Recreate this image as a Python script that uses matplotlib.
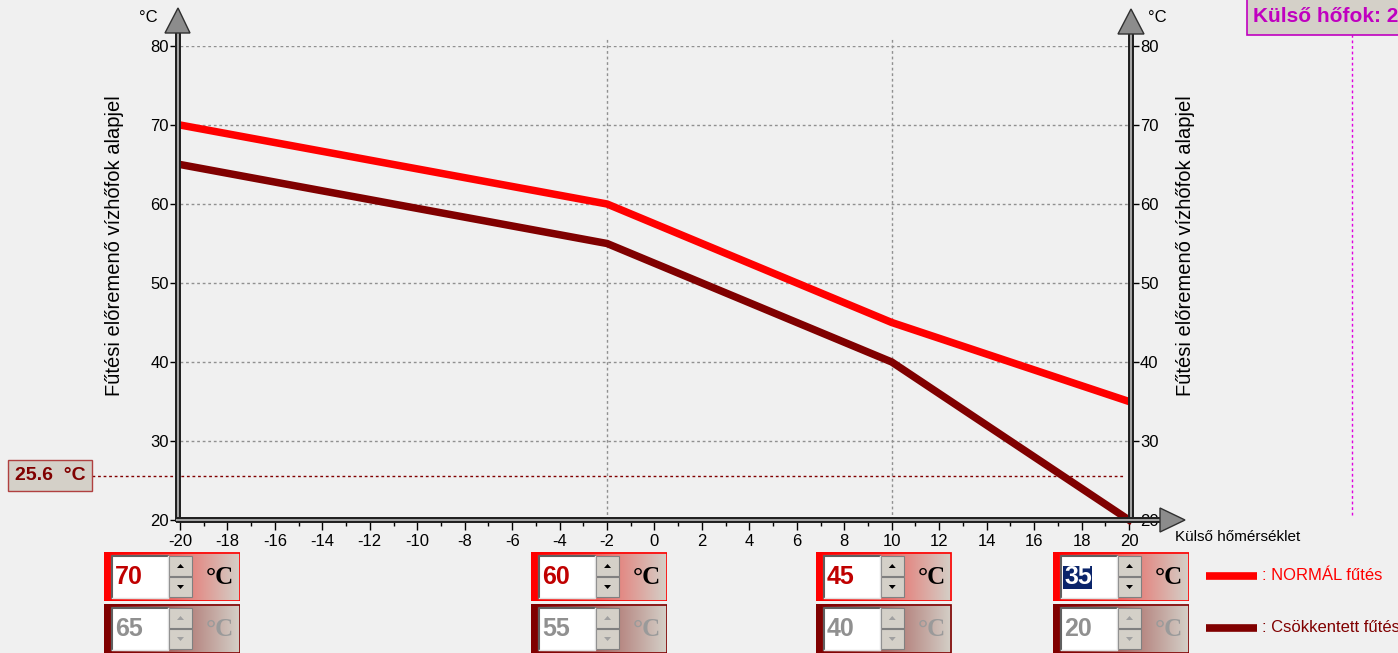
import numpy as np
import matplotlib.pyplot as plt
import matplotlib.transforms as mtransforms
import matplotlib.colors as mcolors
from matplotlib.patches import Rectangle, Polygon
from matplotlib.lines import Line2D

W, H = 1398, 653

# heating curve: outside temperature breakpoints and flow setpoints
outside_pts = [-20, -2, 10, 20]
normal_flow = [70, 60, 45, 35]
reduced_flow = [65, 55, 40, 20]

x_ticks = list(range(-20, 21, 2))
x_minor = list(range(-20, 21))
y_ticks = [20, 30, 40, 50, 60, 70, 80]

setpoint = 25.6
outside_now = 29.4
progress = [-20, 0]

legend_labels = [': NORMÁL fűtés', ': Csökkentett fűtés']

RED = '#ff0000'
DARK = '#800000'
BG = '#f0f0f0'
PANEL = '#d4d0c8'

plt.rcParams['font.family'] = ['Liberation Sans', 'DejaVu Sans']
plt.rcParams['axes.unicode_minus'] = False

fig = plt.figure(figsize=(W / 100, H / 100), dpi=100, facecolor=BG)


def fx(px):
    return px / W


def fy(py):
    return 1 - py / H


ax = fig.add_axes([fx(180), fy(520), fx(1129) - fx(180), fy(46) - fy(520)])
ax.set_facecolor(BG)
ax.set_xlim(-20, 20)
ax.set_ylim(20, 80)
for s in ax.spines.values():
    s.set_visible(False)
ax.set_xticks(x_ticks)
ax.set_xticks(x_minor, minor=True)
ax.set_yticks(y_ticks)
ax.tick_params(axis='x', which='major', length=7, width=1, labelsize=12, pad=3)
ax.tick_params(axis='x', which='minor', length=4, width=1)
ax.tick_params(axis='y', length=7, width=1, labelsize=12, pad=1)
ax.set_ylabel('Fűtési előremenő vízhőfok alapjel', fontsize=14.5)
ax.yaxis.set_label_coords((124 - 180) / 949, 0.578)

ax2 = ax.twinx()
ax2.set_ylim(20, 80)
ax2.set_yticks(y_ticks)
for s in ax2.spines.values():
    s.set_visible(False)
ax2.tick_params(axis='y', length=7, width=1, labelsize=12, pad=1)
ax2.set_ylabel('Fűtési előremenő vízhőfok alapjel', fontsize=14.5)
ax2.yaxis.set_label_coords((1176 - 180) / 949, 0.578)

# grid: horizontal at y ticks, vertical at the inner breakpoints
for y in y_ticks[1:]:
    ax.plot([-20, 20], [y, y], color='#909090', lw=1, ls=(0, (2, 2)), zorder=1)
for bp in outside_pts[1:-1]:
    ax.plot([bp, bp], [20, 81.1], color='#909090', lw=1, ls=(0, (2, 2)),
            zorder=1, clip_on=False)

# current setpoint marker line
ax.plot([-23.7, 19.8], [setpoint, setpoint], color=DARK, lw=1, ls=(0, (2, 2)),
        clip_on=False, zorder=2)
# outside temperature marker
ax.plot([outside_now, outside_now], [20.6, 81.4], color='#e000e0', lw=1,
        ls=(0, (2, 2)), clip_on=False, zorder=2)

# progress bar on the x axis
ax.plot(progress, [20, 20], color=DARK, lw=3, clip_on=False, zorder=6)

ax.plot(outside_pts, reduced_flow, color=DARK, lw=5.4, clip_on=False, zorder=4,
        solid_joinstyle='miter')
ax.plot(outside_pts, normal_flow, color=RED, lw=5.4, clip_on=False, zorder=5,
        solid_joinstyle='miter')


# axis shafts with arrow heads (figure pixel coordinates)
def shaft(xs, ys):
    fig.add_artist(Line2D([fx(v) for v in xs], [fy(v) for v in ys],
                          color='#202020', lw=4.3, solid_capstyle='butt'))
    fig.add_artist(Line2D([fx(v) for v in xs], [fy(v) for v in ys],
                          color='#a8a8a8', lw=1.4, solid_capstyle='butt'))


def arrow(pts):
    fig.add_artist(Polygon([(fx(a), fy(b)) for a, b in pts], closed=True,
                           facecolor='#8c8c8c', edgecolor='#303030', lw=1,
                           zorder=10))


shaft([178, 178], [522, 32])
shaft([1131, 1131], [522, 32])
shaft([176, 1160], [520, 520])
arrow([(178, 8), (165, 33), (190, 33)])
arrow([(1131, 9), (1118, 34), (1144, 34)])
arrow([(1185, 520), (1160, 508), (1160, 532)])

fig.text(fx(148), fy(18), '°C', fontsize=12, ha='center', va='center')
fig.text(fx(1157), fy(18), '°C', fontsize=12, ha='center', va='center')
fig.text(fx(1175), fy(537), 'Külső hőmérséklet', fontsize=11, ha='left',
         va='center')

# setpoint value box on the left
tr = mtransforms.blended_transform_factory(fig.transFigure, ax.transData)
ax.text(fx(50), setpoint, '25.6  °C', transform=tr, ha='center', va='center',
        fontsize=14, fontweight='bold', color=DARK,
        bbox=dict(boxstyle='square,pad=0.35', facecolor=PANEL, edgecolor='#b04040',
                  lw=1))

# outside temperature box, top right (runs off the edge as in the app window)
fig.add_artist(Rectangle((fx(1247), fy(35)), fx(160), 35 / H + 0.01,
                         facecolor=PANEL, edgecolor='#c000c0', lw=1.2))
fig.text(fx(1253), fy(17), f'Külső hőfok: {outside_now} °C', fontsize=15,
         fontweight='bold', color='#c000c0', ha='left', va='center')


# spin box controls under each breakpoint
def spin_box(left, top, value, active, selected=False):
    w, h = 136, 49
    cax = fig.add_axes([fx(left), fy(top + h), w / W, h / H])
    cax.set_xlim(0, w)
    cax.set_ylim(h, 0)
    cax.axis('off')
    c0 = np.array(mcolors.to_rgb(RED if active else DARK))
    c1 = np.array(mcolors.to_rgb(PANEL))
    t = np.linspace(0, 1, 200)[None, :, None]
    grad = c0 + (c1 - c0) * t
    cax.imshow(grad, extent=[0, w, h, 0], aspect='auto', zorder=0)
    cax.add_patch(Rectangle((0, 0), 6, h, facecolor=c0, edgecolor='none', zorder=1))
    cax.add_patch(Rectangle((0.5, 0.5), w - 1, h - 1, facecolor='none',
                            edgecolor=RED if active else DARK, lw=1.2, zorder=5))
    # text field
    cax.add_patch(Rectangle((8, 4), 56, 42, facecolor='white', edgecolor='none', zorder=2))
    cax.plot([8, 8, 64], [46, 4, 4], color='#606060', lw=1.5, zorder=3)
    cax.plot([8, 64, 64], [46, 46, 4], color='#e0e0e0', lw=1, zorder=3)
    num_color = '#c00000' if active else '#909090'
    if selected:
        cax.add_patch(Rectangle((10, 14), 29, 23, facecolor='#0a246a',
                                edgecolor='none', zorder=3))
        num_color = 'white'
    cax.text(11, 25, str(value), fontsize=18, fontweight='bold', color=num_color,
             ha='left', va='center', zorder=4)
    # spin buttons
    tri = '#000000' if active else '#a0a0a0'
    for y0, up in [(4, True), (25, False)]:
        cax.add_patch(Rectangle((65, y0), 23, 20, facecolor=PANEL,
                                edgecolor='#808080', lw=0.8, zorder=2))
        cy = y0 + 10
        if up:
            pts = [(73, cy + 2), (80, cy + 2), (76.5, cy - 2)]
        else:
            pts = [(73, cy - 2), (80, cy - 2), (76.5, cy + 2)]
        cax.add_patch(Polygon(pts, closed=True, facecolor=tri, edgecolor='none', zorder=3))
    cax.text(116, 26, '°C', fontsize=18, fontweight='bold', family='Liberation Serif',
             color='black' if active else '#9a9a9a', ha='center', va='center', zorder=4)


for i, bp in enumerate(outside_pts):
    px = 180 + (bp + 20) / 40 * 949
    spin_box(px - 76, 552, normal_flow[i], True, selected=(i == 3))
    spin_box(px - 76, 604, reduced_flow[i], False)

# legend
for yy, col, lab in [(576, RED, legend_labels[0]), (628, DARK, legend_labels[1])]:
    fig.add_artist(Line2D([fx(1206), fx(1257)], [fy(yy), fy(yy)], color=col, lw=5.5,
                          solid_capstyle='butt'))
    fig.text(fx(1262), fy(yy), lab, color=col, fontsize=12, ha='left', va='center')

fig.savefig('out.png', dpi=100, facecolor=BG)
